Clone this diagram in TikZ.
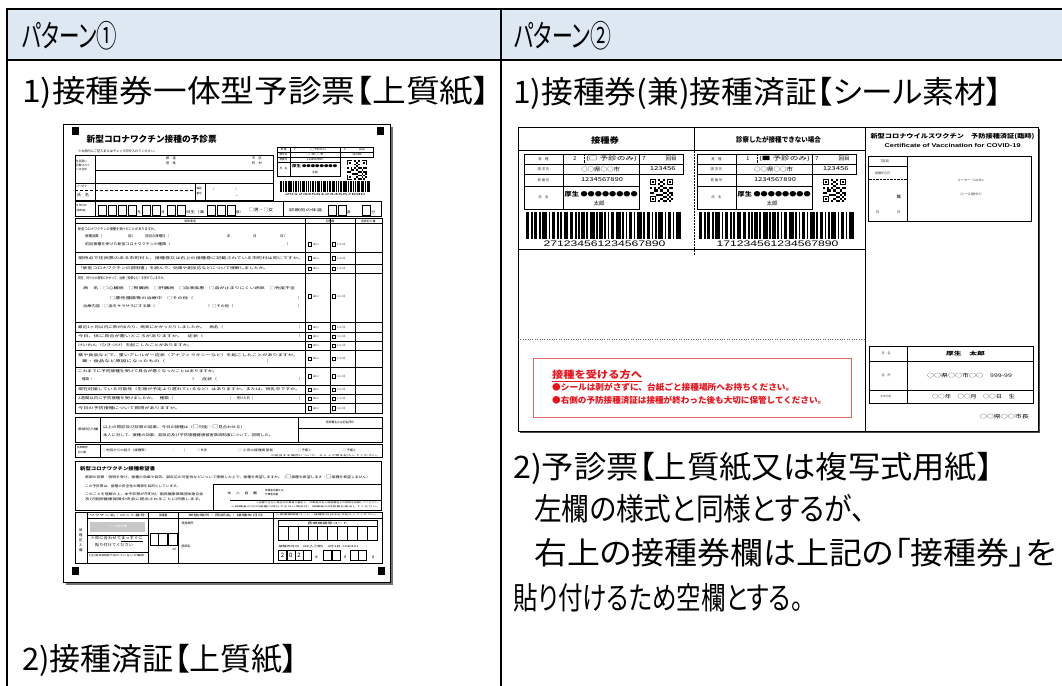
\documentclass[tikz,border=0pt]{standalone}
\usepackage{fontspec}
\usepackage{graphicx}
\newfontfamily\jp[CharacterWidth=AlternateProportional]{Noto Sans CJK JP}
\newfontfamily\jpf{Noto Sans CJK JP}
\newfontfamily\lat{Liberation Sans}
\newcommand\fsz[1]{\fontsize{#1}{#1}\selectfont}
\newcommand\fw[2]{\resizebox{#1pt}{\height}{#2}}
\definecolor{hdrblue}{HTML}{DDE8F3}
\definecolor{redtxt}{HTML}{E8141C}
\definecolor{redbox}{HTML}{E06A6A}
\tikzset{
 big/.style={anchor=west,inner sep=0pt,font=\jp\fsz{31}},
 ft/.style={anchor=west,inner sep=0pt,font=\jpf\fsz{3.4}},
 fc/.style={inner sep=0pt,font=\jpf\fsz{3.4}},
 st/.style={inner sep=0pt,font=\jpf\fsz{3.4},text=black!80},
 sv/.style={inner sep=0pt,font=\jpf\fsz{5.5}},
 fl/.style={line width=0.35pt},
 fb/.style={line width=0.9pt},
}
\newcommand\barcode[4]{%
  \begin{scope}[shift={(#1,#2)}]
  \pgfmathsetmacro\bu{#3/95}
  \foreach \a/\b in {0/2,3/1,5/2,8/1,10/3,14/1,16/2,19/1,21/1,23/3,27/2,30/1,32/1,34/2,37/1,39/3,43/1,45/2,48/1,50/1,52/2,55/3,59/1,61/1,63/2,66/1,68/3,72/1,74/2,77/1,79/1,81/3,85/1,87/2,90/1,92/3}
    {\fill ({\a*\bu},0) rectangle ({(\a+\b)*\bu},#4);}
  \end{scope}}
\newcommand\qrcode[3]{%
  \begin{scope}[shift={(#1,#2)},scale=#3/11]
  \foreach \p/\q in {0/0,8/0,0/8}{%
    \fill (\p,\q) rectangle ++(3,3);
    \fill[white] ({\p+0.5},{\q+0.5}) rectangle ++(2,2);
    \fill ({\p+1},{\q+1}) rectangle ++(1,1);}
  \foreach \p/\q in {4/0,5/1,6/0,4/2,6/2,5/3,0/4,2/4,3/5,1/6,4/4,5/5,6/6,7/4,8/5,9/4,10/6,4/7,6/8,5/9,7/10,9/8,10/9,8/7,4/10,6/10,9/10,10/4,7/6,3/7,0/6,2/5,8/9,5/7,7/8,10/7,6/4,9/6}
    {\fill (\p,\q) rectangle ++(1,1);}
  \end{scope}}
\newcommand\hai[1]{%
  \draw[fl] (308,{#1-1.8}) rectangle ++(3.6,3.6);
  \node[ft,font=\jpf\fsz{2.8}] at (313,#1) {はい};
  \draw[fl] (332,{#1-1.8}) rectangle ++(3.6,3.6);
  \node[ft,font=\jpf\fsz{2.8}] at (337,#1) {いいえ};}
\newcommand\couponpanel[4]{%
\begin{scope}[xshift=#1]
 \draw[line width=0.8pt] (524,154) rectangle (683,174);
 \draw[line width=0.8pt] (524,174) rectangle (639,209);
 \draw[line width=0.4pt] (524,164) -- (683,164) (524,186) -- (639,186) (563,154) -- (563,209) (639,154) -- (639,174);
 \draw[line width=0.4pt,densely dotted] (584,154) -- (584,164);
 \node[st] at (543.5,159) {券　種};
 \node[sv] at (575,159) {#2};
 \node[sv] at (611.5,159) {\fw{51}{(#3 予診のみ)}};
 \node[sv] at (644,159) {7};
 \node[sv] at (671,159) {回目};
 \node[st] at (543.5,169) {請 求 先};
 \node[sv] at (600.5,169) {\fw{39}{○○県○○市}};
 \node[sv] at (662.8,169) {\fw{26}{123456}};
 \node[st] at (543.5,180) {券 番 号};
 \node[sv] at (602,180) {\fw{42}{1234567890}};
 \node[st] at (543.5,197.5) {氏　名};
 \node[sv,anchor=west,font=\jpf\bfseries\fsz{6}] at (564.5,194.5) {\fw{73}{厚生 ●●●●●●●●}};
 \node[sv] at (599,203.3) {太郎};
 \qrcode{650}{179}{23}
 \barcode{526}{212}{155}{27}
 \node[inner sep=0pt,font=\lat\fsz{8}] at (604.5,244) {\fw{122}{#4}};
\end{scope}}
\begin{document}
\begin{tikzpicture}[x=1pt,y=-1pt]
\useasboundingbox (0,0) rectangle (1062,685);
\fill[white] (0,0) rectangle (1062,685);
% ---------- table ----------
\fill[hdrblue] (7,9) rectangle (1062,60);
\draw[line width=2.2pt] (1070,9) -- (7,9) -- (7,690);
\draw[line width=2.2pt] (7,60) -- (1070,60);
\draw[line width=2.2pt] (501,9) -- (501,690);
\node[big] (p1) at (22,36) {\fw{95}{パターン①}};
\node[big] (p2) at (514,36) {\fw{97}{パターン②}};
\node[big] (a1) at (22,92) {\fw{468}{1)接種券一体型予診票【上質紙】}};
\node[big] (a2) at (22,660) {2)接種済証【上質紙】};
\node[big] (b1) at (513,93) {\fw{489}{1)接種券(兼)接種済証【シール素材】}};
\node[big] (b2) at (513,468) {\fw{480}{2)予診票【上質紙又は複写式用紙】}};
\node[big] (b3) at (534,509) {\fw{331}{左欄の様式と同様とするが、}};
\node[big] (b4) at (534,553) {\fw{522}{右上の接種券欄は上記の「接種券」を}};
\node[big] (b5) at (513,598) {\fw{290}{貼り付けるため空欄とする。}};
% ---------- left form ----------
\fill[black!55] (65.5,126.5) rectangle (392.5,584.5);
\draw[fill=white,line width=0.8pt] (63,124) rectangle (390,582);
\foreach \mx/\my in {72/127,377/127,72/567,378/567}{\fill (\mx,\my) rectangle ++(7,7.5);}
\node[anchor=west,inner sep=0pt,font=\jpf\bfseries\fsz{8.7}] (f1title) at (86.5,139.5) {\fw{130}{新型コロナワクチン接種の予診票}};
\node[ft,font=\jpf\fsz{3.2}] at (78,151.5) {\fw{79}{※太枠内にご記入またはチェック印を入れてください。}};
% address box
\draw[fb] (75,155) rectangle (273,200.5);
\draw[fl] (95,155) -- (95,200.5) (95,170) -- (273,170) (75,183.3) -- (273,183.3) (195,183.3) -- (195,200.5) (205,183.3) -- (205,200.5);
\draw[fl,densely dashed] (75,190) -- (195,190);
\node[ft,font=\jpf\fsz{2.7}] at (76,161) {住民票に};
\node[ft,font=\jpf\fsz{2.7}] at (76,165) {記載されて};
\node[ft,font=\jpf\fsz{2.7}] at (76,169) {いる住所};
\node[fc,font=\jpf\fsz{3.2}] at (171,158.5) {都　道};
\node[fc,font=\jpf\fsz{3.2}] at (171,163.5) {府　県};
\node[fc,font=\jpf\fsz{3.2}] at (257,158.5) {市　区};
\node[fc,font=\jpf\fsz{3.2}] at (257,163.5) {町　村};
\node[ft,font=\jpf\fsz{2.6}] at (76.5,186.7) {フリガナ};
\node[ft,font=\jpf\fsz{4}] at (77,195.3) {氏　名};
\node[ft,font=\jpf\fsz{2.6}] at (196.3,189) {電話};
\node[ft,font=\jpf\fsz{2.6}] at (196.3,193.5) {番号};
\node[fc,font=\jpf\fsz{3.2}] at (213,189) {（};
\node[fc,font=\jpf\fsz{3.2}] at (237,189) {）};
\node[fc,font=\jpf\fsz{3.2}] at (237,197) {－};
% coupon block
\draw[fl] (277,147) rectangle (373,157) (277,152) -- (373,152) (277,157) rectangle (340,176) (277,162) -- (340,162) (290,147) -- (290,176) (340,147) -- (340,157);
\node[fc,font=\jpf\fsz{2.6}] at (283.5,149.5) {券 種};
\node[fc,font=\jpf\fsz{2.8}] at (295,149.5) {2};
\node[fc,font=\jpf\fsz{2.8}] at (318,149.5) {(□予診のみ)};
\node[fc,font=\jpf\fsz{2.8}] at (345,149.5) {6};
\node[fc,font=\jpf\fsz{2.8}] at (362,149.5) {回目};
\node[fc,font=\jpf\fsz{2.6}] at (283.5,154.5) {請求先};
\node[fc,font=\jpf\fsz{2.8}] at (315,154.5) {○○県○○市};
\node[fc,font=\jpf\fsz{2.8}] at (357,154.5) {123456};
\node[fc,font=\jpf\fsz{2.6}] at (283.5,159.5) {券番号};
\node[fc,font=\jpf\fsz{2.8}] at (315,159.5) {1234567890};
\node[fc,font=\jpf\fsz{2.6}] at (283.5,169) {氏　名};
\node[ft,font=\jpf\bfseries\fsz{3.5}] at (292,166.5) {\fw{45}{厚生 ●●●●●●●●}};
\node[fc,font=\jpf\fsz{2.8}] at (315,172.5) {太郎};
\qrcode{347}{160}{20}
\barcode{280}{180.5}{90}{11}
\node[fc,font=\lat\fsz{3}] at (325,194) {\fw{80}{201234561234567890}};
% birth row
\draw[fb] (75,201.5) rectangle (381.7,216.5);
\draw[fl] (95,201.5) -- (95,216.5) (283,201.5) -- (283,216.5);
\node[ft,font=\jpf\fsz{2.6}] at (76,206) {生年月日};
\node[ft,font=\jpf\fsz{2.6}] at (76,211) {(満年齢)};
\foreach \bx in {98,108,118,128,142,152,167,177,207,217,227,328,338,362}{\draw[fl] (\bx,205) rectangle ++(8,10);}
\node[ft] at (137.2,212) {年};
\node[ft] at (161.2,212) {月};
\node[ft] at (186,212) {\fw{18}{日生（満}};
\node[ft] at (236,212) {歳）};
\node[ft,font=\jpf\fsz{4}] at (249,210) {\fw{24}{□男・□女}};
\node[ft] at (289,210) {\fw{33}{診察前の体温}};
\node[ft] at (347,212) {度};
\node[ft] at (371.5,212) {分};
% questionnaire
\draw[fl] (75,218.3) rectangle (381.7,413.5);
\foreach \ry in {223.5,252,264,273,322,332,341,350,367,385,394,403}{\draw[fl] (75,\ry) -- (381.7,\ry);}
\draw[fl] (305,218.3) -- (305,413.5) (330,218.3) -- (330,413.5);
\draw[fb] (75,218.3) rectangle (355,413.5);
\node[fc,font=\jpf\fsz{2.8}] at (190,221) {質問事項};
\node[fc,font=\jpf\fsz{2.8}] at (330,221) {回答欄};
\node[fc,font=\jpf\fsz{2.8}] at (368.3,221) {医師記入欄};
\node[ft] at (78,229) {\fw{79}{新型コロナワクチンの接種を受けたことがありますか。}};
\node[ft] at (85,236.5) {接種回数（};
\node[ft] at (128,236.5) {回）};
\node[ft] at (145,236.5) {前回の接種日（};
\node[ft] at (227,236.5) {年};
\node[ft] at (253,236.5) {月};
\node[ft] at (280,236.5) {日）};
\node[ft] at (85,244) {\fw{85}{前回接種を受けた新型コロナワクチンの種類（}};
\node[ft] at (287,244) {）};
\hai{244}
\node[ft] at (78,258) {\fw{225}{現時点で住民票のある市町村と、接種券又は右上の接種券に記載されている市町村は同じですか。}};
\hai{258}
\node[ft] at (78,268.5) {\fw{190}{「新型コロナワクチンの説明書」を読んで、効果や副反応などについて理解しましたか。}};
\hai{268.5}
\node[ft] at (78,278.3) {\fw{88}{現在、何らかの病気にかかって、治療（投薬など）を受けていますか。}};
\node[ft] at (83,288.3) {\fw{212}{病　名：□心臓病　□腎臓病　□肝臓病　□血液疾患　□血が止まりにくい病気　□免疫不全}};
\node[ft] at (110,298.3) {\fw{83}{□悪性腫瘍等の治療中　□その他（}};
\node[ft] at (298,298.3) {）};
\node[ft] at (83,306.7) {\fw{72}{治療内容：□血をサラサラにする薬（}};
\node[ft] at (208,306.7) {\fw{25}{）□その他（}};
\node[ft] at (298,306.7) {）};
\hai{296}
\node[ft] at (78,327) {\fw{145}{最近1ヶ月以内に熱が出たり、病気にかかったりしましたか。　病名（}};
\node[ft] at (299,327) {）};
\hai{327}
\node[ft] at (78,336.5) {\fw{125}{今日、体に具合が悪いところがありますか。　症状（}};
\node[ft] at (299,336.5) {）};
\hai{336.5}
\node[ft] at (78,345.5) {\fw{114}{けいれん（ひきつけ）を起こしたことがありますか。}};
\hai{345.5}
\node[ft] at (78,355) {\fw{220}{薬や食品などで、重いアレルギー症状（アナフィラキシーなど）を起こしたことがありますか。}};
\node[ft] at (82,361.5) {\fw{83}{薬・食品など原因になったもの（}};
\node[ft] at (267,361.5) {）};
\hai{358.5}
\node[ft] at (78,371.5) {\fw{139}{これまでに予防接種を受けて具合が悪くなったことはありますか。}};
\node[ft] at (82,379.5) {種類（};
\node[ft] at (192,379.5) {\fw{25}{）　症状（}};
\node[ft] at (299,379.5) {）};
\hai{376}
\node[ft] at (78,389.5) {\fw{222}{現在妊娠している可能性（生理が予定より遅れているなど）はありますか。または、授乳中ですか。}};
\hai{389.5}
\node[ft] at (78,398.5) {\fw{95}{2週間以内に予防接種を受けましたか。　種類（}};
\node[ft] at (230,398.5) {\fw{23}{）　受けた日（}};
\node[ft] at (299,398.5) {）};
\hai{398.5}
\node[ft] at (78,408) {\fw{102}{今日の予防接種について質問がありますか。}};
\hai{408}
% doctor row
\draw[fl] (75,416.7) rectangle (381.7,441.7);
\draw[fl] (100,416.7) -- (100,441.7) (298,416.7) -- (298,441.7) (298,428.5) -- (381.7,428.5);
\node[ft,font=\jpf\fsz{3}] at (78,429) {\fw{20}{医師記入欄}};
\node[ft] at (103,426.5) {\fw{142}{以上の問診及び診察の結果、今日の接種は（{\fsz{4.5}□}可能・{\fsz{4.5}□}見合わせる）}};
\node[ft] at (103,435) {\fw{170}{本人に対して、接種の効果、副反応及び予防接種健康被害救済制度について、説明した。}};
\node[fc,font=\jpf\fsz{2.8}] at (340,422.5) {\fw{28}{医師署名又は記名押印}};
% check row
\draw[fl] (75,444) rectangle (381.7,457);
\draw[fl] (100,444) -- (100,457);
\node[ft,font=\jpf\fsz{2.6}] at (77,448) {医師確認};
\node[ft,font=\jpf\fsz{2.6}] at (78,452.5) {記入欄};
\node[ft,font=\jpf\fsz{3}] at (102,450) {\fw{46}{○ 他院からの紹介（接種等）}};
\node[ft,font=\jpf\fsz{3}] at (172,450) {：};
\node[ft,font=\jpf\fsz{3}] at (184,450) {）};
\node[ft,font=\jpf\fsz{3}] at (197,450) {○ 外来};
\node[ft,font=\jpf\fsz{3}] at (238,450) {\fw{35}{○ 小児の接種希望者}};
\node[ft,font=\jpf\fsz{3}] at (298,450) {○ 予備①};
\node[ft,font=\jpf\fsz{3}] at (343,450) {○ 予備②};
\node[fc,anchor=east,font=\jpf\fsz{2.2}] at (380.5,455.3) {\fw{110}{※該当する場合について、チェック等を記入してください。}};
% wish box
\draw[fb] (75,461.7) rectangle (381.7,510);
\node[ft,font=\jpf\bfseries\fsz{4.6}] at (80,468.3) {\fw{75}{新型コロナワクチン接種希望書}};
\node[ft,font=\jpf\fsz{3.2}] at (85,476.7) {\fw{285}{医師の診察・説明を受け、接種の効果や目的、副反応の可能性などについて理解した上で、接種を希望しますか。（{\fsz{4.5}□}接種を希望します・{\fsz{4.5}□}接種を希望しません）}};
\node[ft,font=\jpf\fsz{3.2}] at (85,486) {\fw{95}{この予診票は、接種の安全性の確保を目的としています。}};
\node[ft,font=\jpf\fsz{3.2}] at (85,494) {\fw{118}{このことを理解の上、本予診票が市町村、国民健康保険団体連合会}};
\node[ft,font=\jpf\fsz{3.2}] at (85,499.5) {\fw{118}{及び国民健康保険中央会に提出されることに同意します。}};
\draw[fl] (213,484) -- (381.7,484) (213,484) -- (213,510);
\node[ft,font=\jpf\fsz{3}] at (227,493.3) {\fw{30}{本　人　自　署}};
\node[ft,font=\jpf\fsz{2.6}] at (265,490.5) {保護者自署又は};
\node[ft,font=\jpf\fsz{2.6}] at (265,494.5) {代筆者自署};
\draw[fl] (230,500) -- (381.7,500);
\node[fc,anchor=east,font=\jpf\fsz{2}] at (381,502.8) {\fw{125}{※自署できない場合は代筆者が署名し、代筆者氏名と被接種者との続柄を記載してください。}};
\node[fc,anchor=east,font=\jpf\fsz{2}] at (381,506.3) {\fw{150}{※保護者の方が接種に同行できない場合は、保護者の同意書を提出してください。}};
% bottom table
\draw[fl] (75,511.7) rectangle (381.7,563.3);
\draw[fl] (86.7,518.3) -- (381.7,518.3) (86.7,511.7) -- (86.7,563.3) (148.3,511.7) -- (148.3,563.3) (178.3,511.7) -- (178.3,563.3) (273.3,511.7) -- (273.3,563.3);
\node[fc,font=\jpf\fsz{2.8}] at (117.5,515) {\fw{55}{ワクチン名・ロット番号}};
\node[fc,font=\jpf\fsz{2.8}] at (163.3,515) {接種量};
\node[fc,font=\jpf\fsz{2.8}] at (225.8,515) {\fw{75}{実施場所・医師名・接種年月日}};
\node[fc,font=\jpf\fsz{2}] at (327.5,515) {\fw{103}{※医療機関等コード・接種年月日は必ず記入してください。}};
\foreach \ch [count=\ci] in {接,種,記,入,欄}{\node[fc,font=\jpf\fsz{3.3}] at (80.8,{525+\ci*5}) {\ch};}
\fill[black!22] (90,521.7) rectangle (145,531.7);
\node[fc,font=\jpf\fsz{3},text=white] at (117.5,526.7) {シール貼付欄};
\draw[fl] (86.7,535) -- (148.3,535) (86.7,551.7) -- (148.3,551.7);
\node[ft,font=\jpf\fsz{3.7}] at (90.5,539.5) {\fw{52}{※枠に合わせて\underline{まっすぐに}}};
\node[ft,font=\jpf\fsz{3.7}] at (95,545) {\fw{38}{貼り付けてください}};
\node[ft,font=\jpf\fsz{2.4}] at (89,556) {\fw{55}{(注)有効期限が切れていないか確認}};
\draw[fl] (150,533.3) rectangle (158.3,545) (158.3,533.3) rectangle (166.7,545) (168.3,533.3) rectangle (176.7,545);
\fill (167.5,545.5) circle (0.4);
\node[fc,font=\jpf\fsz{3}] at (174.5,549) {ml};
\node[ft,font=\jpf\fsz{3}] at (181.5,523.3) {実施場所};
\node[ft,font=\jpf\fsz{3}] at (181.5,546.7) {医師名};
\draw[fl] (278.3,520) rectangle (376.7,540) (278.3,526) -- (376.7,526);
\foreach \k in {1,...,9}{\draw[fl] ({278.3+\k*9.84},526) -- ({278.3+\k*9.84},540);}
\node[fc,font=\jpf\fsz{2.8}] at (327.5,523) {\fw{40}{医療機関等コード}};
\node[ft,font=\jpf\fsz{2.6}] at (278.3,546.7) {\fw{80}{接種年月日　R4(入力例)　4月1日→040101}};
\foreach \bx/\dg in {278.3/2,286.7/0,295/2}{\draw[fl] (\bx,550) rectangle ++(8.3,10); \node[fc,font=\jpf\fsz{6}] at ({\bx+4.15},555) {\dg};}
\draw[fl] (303.3,550) rectangle ++(8.3,10) (323.3,550) rectangle ++(8.3,10) (331.7,550) rectangle ++(8.3,10) (350,550) rectangle ++(8.3,10) (358.3,550) rectangle ++(8.3,10);
\node[fc,font=\jpf\fsz{3}] at (316.7,557) {年};
\node[fc,font=\jpf\fsz{3}] at (345,557) {月};
\node[fc,font=\jpf\fsz{3}] at (373,557) {日};
% ---------- sticker ----------
\fill[black!70] (520,129) rectangle (1040,433);
\draw[fill=white,line width=0.8pt] (518,127) rectangle (1038,431);
\draw[line width=0.5pt] (518,150.5) -- (865,150.5) (694,127) -- (694,150.5) (865,127) -- (865,431) (518,249.6) -- (865,249.6);
\draw[line width=0.5pt,densely dotted] (694,150.5) -- (694,255);
\draw[line width=0.4pt,dotted,black!60] (518,339.6) -- (865,339.6);
\node[inner sep=0pt,font=\jpf\bfseries\fsz{8}] (s1h) at (605,140) {\fw{28}{接種券}};
\node[inner sep=0pt,font=\jpf\bfseries\fsz{7}] (s2h) at (778.5,140) {\fw{85}{診察したが接種できない場合}};
\couponpanel{0pt}{2}{□}{271234561234567890}
\couponpanel{173pt}{1}{■}{171234561234567890}
% certificate panel
\node[inner sep=0pt,font=\jpf\bfseries\fsz{6}] (s3h) at (952.5,136.5) {\fw{164}{新型コロナウイルスワクチン　予防接種済証(臨時)}};
\node[inner sep=0pt,font=\lat\bfseries\fsz{5.5}] (s3e) at (952.6,145.3) {\fw{136}{Certificate of Vaccination for COVID-19}};
\draw[line width=0.7pt] (868.6,156) rectangle (1031,221);
\draw[line width=0.4pt] (907.5,156) -- (907.5,221) (868.6,166) -- (907.5,166);
\draw[line width=0.4pt,densely dotted] (868.6,179.5) -- (907.5,179.5);
\node[st] at (884.6,161) {7回目};
\node[st,font=\jpf\fsz{3}] at (882.5,173) {接種年月日};
\node[st,font=\jpf\bfseries\fsz{4.2}] at (899,196.6) {年};
\node[st] at (877.5,212.5) {月};
\node[st] at (898.7,212.5) {日};
\node[st,font=\jpf\fsz{3.2}] at (971,180.7) {メーカー／Lot No.};
\node[st,font=\jpf\fsz{3.2}] at (971,194.8) {(シール貼付け)};
\draw[line width=0.9pt] (869,346) rectangle (1033,403);
\draw[line width=0.5pt] (907.5,346) -- (907.5,403) (869,361) -- (1033,361) (869,390) -- (1033,390);
\node[st,font=\jpf\fsz{3}] at (886,353.5) {氏　名};
\node[inner sep=0pt,font=\jpf\bfseries\fsz{5}] at (965.5,353.5) {\fw{39}{厚生　太郎}};
\node[st,font=\jpf\fsz{3}] at (886,375.5) {住　所};
\node[inner sep=0pt,font=\jpf\fsz{5}] at (969.5,375.5) {\fw{85}{○○県○○市○○　999-99}};
\node[st,font=\jpf\fsz{2.7}] at (886,396.5) {生年月日};
\node[inner sep=0pt,font=\jpf\fsz{5}] at (973.5,396.5) {\fw{83}{○○年　○○月　○○日　生}};
\node[inner sep=0pt,anchor=east,font=\jpf\fsz{5}] (mayor) at (1029,416.5) {\fw{49}{○○県○○市長}};
% red notice
\draw[redbox,line width=0.8pt] (533,358) rectangle (851,417);
\node[anchor=west,inner sep=0pt,font=\jpf\bfseries\fsz{10},text=redtxt] (rt) at (552,374.5) {\fw{90}{接種を受ける方へ}};
\draw[redtxt,line width=0.6pt] (552,381.5) -- (642,381.5);
\node[anchor=west,inner sep=0pt,font=\jpf\bfseries\fsz{8.4},text=redtxt] (r1) at (552,387) {\fw{242}{●シールは剥がさずに、台紙ごと接種場所へお持ちください。}};
\node[anchor=west,inner sep=0pt,font=\jpf\bfseries\fsz{8.4},text=redtxt] (r2) at (552,400.7) {\fw{274}{●右側の予防接種済証は接種が終わった後も大切に保管してください。}};
\end{tikzpicture}
\end{document}
